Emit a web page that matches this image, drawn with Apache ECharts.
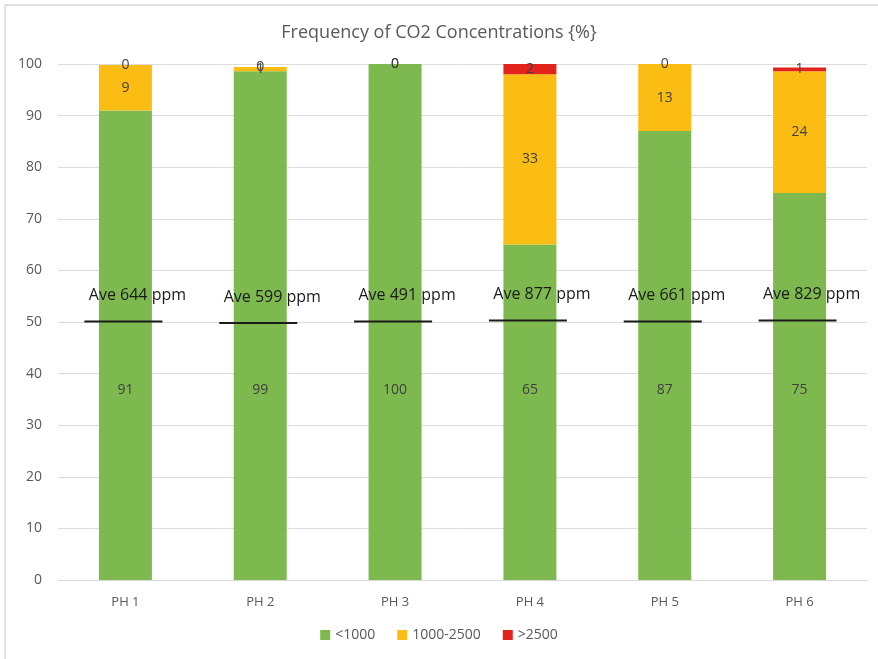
<!DOCTYPE html>
<html>
<head>
<meta charset="utf-8">
<script src="https://cdn.jsdelivr.net/npm/echarts@6/dist/echarts.min.js"></script>
<style>
html,body{margin:0;padding:0;background:#fff;}
#main{width:878px;height:659px;}
</style>
</head>
<body>
<div id="main"></div>
<script>
const categories = ['PH 1', 'PH 2', 'PH 3', 'PH 4', 'PH 5', 'PH 6'];
const below1000 = [91, 98.6, 100, 65, 87, 75];
const mid1000to2500 = [8.8, 0.8, 0, 33, 13, 23.6];
const above2500 = [0, 0, 0, 2, 0, 0.7];
const averagePpm = [644, 599, 491, 877, 661, 829];
const averageLineLevel = [50.1, 49.8, 50.1, 50.3, 50.1, 50.3];
const yTicks = { min: 0, max: 100, interval: 10 };

const FONT = '"Open Sans", "Noto Sans", sans-serif';
const chart = echarts.init(document.getElementById('main'));

const labelStyle = {
  show: true,
  position: 'inside',
  color: '#404040',
  fontSize: 14,
  fontFamily: FONT,
  formatter: p => Math.round(p.value)
};

const aveData = categories.map((c, i) => [i, averageLineLevel[i], averagePpm[i]]);

chart.setOption({
  animation: false,
  backgroundColor: '#ffffff',
  title: {
    text: 'Frequency of CO2 Concentrations {%}',
    left: 'center',
    top: 19,
    textStyle: { color: '#595959', fontSize: 18, fontWeight: 'normal', fontFamily: FONT }
  },
  graphic: [
    { type: 'line', shape: { x1: 5, y1: 5, x2: 878, y2: 5 }, style: { stroke: '#d6d6d6', lineWidth: 1.5 } },
    { type: 'line', shape: { x1: 5, y1: 5, x2: 5, y2: 659 }, style: { stroke: '#d6d6d6', lineWidth: 1.5 } }
  ],
  legend: {
    bottom: 12,
    left: 'center',
    itemWidth: 10,
    itemHeight: 10,
    itemGap: 22,
    icon: 'rect',
    textStyle: { color: '#595959', fontSize: 14, fontFamily: FONT },
    data: ['<1000', '1000-2500', '>2500']
  },
  grid: { left: 58, right: 11, top: 64, bottom: 79 },
  xAxis: {
    type: 'category',
    data: categories,
    axisLine: { lineStyle: { color: '#d9d9d9', width: 1 } },
    axisTick: { show: false },
    axisLabel: { color: '#595959', fontSize: 13, fontFamily: FONT, margin: 16 }
  },
  yAxis: {
    type: 'value',
    min: yTicks.min,
    max: yTicks.max,
    interval: yTicks.interval,
    axisLine: { show: false },
    axisTick: { show: false },
    splitLine: { lineStyle: { color: '#dcdcdc', width: 1 } },
    axisLabel: { color: '#595959', fontSize: 14, fontFamily: FONT, margin: 16 }
  },
  series: [
    {
      name: '<1000', type: 'bar', stack: 'total', barWidth: 53,
      itemStyle: { color: '#7eb94f' },
      label: Object.assign({}, labelStyle, { position: 'insideBottom', distance: 183 }),
      data: below1000
    },
    {
      name: '1000-2500', type: 'bar', stack: 'total', barWidth: 53,
      itemStyle: { color: '#fbbd14' },
      label: labelStyle,
      data: mid1000to2500
    },
    {
      name: '>2500', type: 'bar', stack: 'total', barWidth: 53,
      itemStyle: { color: '#e1231b' },
      label: labelStyle,
      data: above2500
    },
    {
      name: 'ave', type: 'custom',
      z: 10,
      legendHoverLink: false,
      data: aveData,
      renderItem: function (params, api) {
        const pt = api.coord([api.value(0), api.value(1)]);
        const half = 39;
        return {
          type: 'group',
          children: [
            {
              type: 'line',
              shape: { x1: pt[0] - half - 2, y1: pt[1], x2: pt[0] + half - 2, y2: pt[1] },
              style: { stroke: '#1a1a1a', lineWidth: 2 }
            },
            {
              type: 'text',
              x: pt[0] + 12,
              y: pt[1] - 26,
              style: {
                text: 'Ave ' + api.value(2) + ' ppm',
                fill: '#1a1a1a',
                fontSize: 16,
                fontFamily: FONT,
                align: 'center',
                verticalAlign: 'middle'
              }
            }
          ]
        };
      }
    }
  ]
});
</script>
</body>
</html>
